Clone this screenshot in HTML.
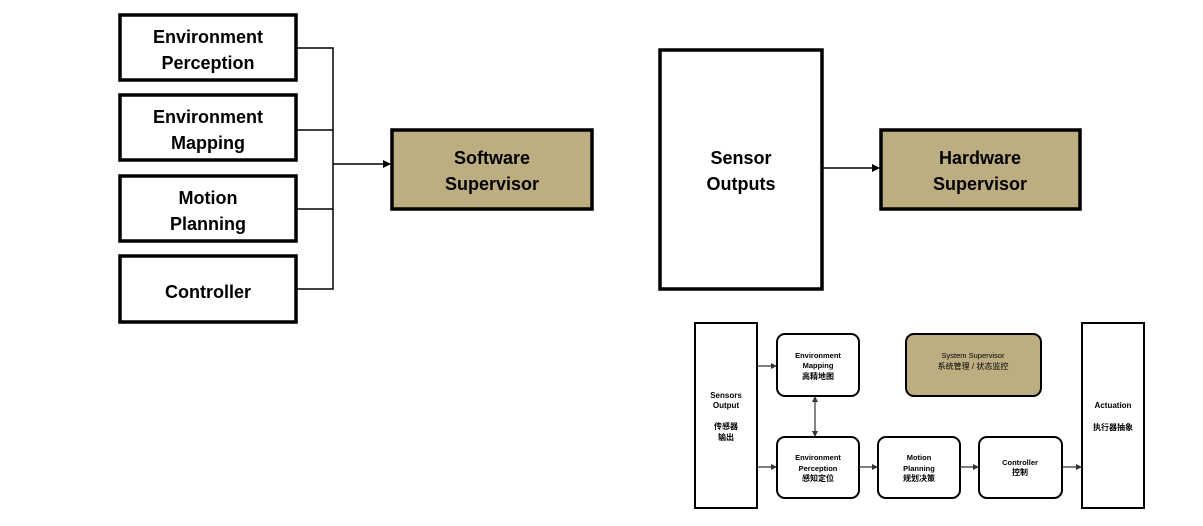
<!DOCTYPE html>
<html><head><meta charset="utf-8"><style>
body{margin:0;background:#fff;width:1203px;height:521px;overflow:hidden}
svg text{font-family:"Liberation Sans","Noto Sans CJK SC",sans-serif;text-anchor:middle}
</style></head><body>
<svg width="1203" height="521" viewBox="0 0 1203 521" xmlns="http://www.w3.org/2000/svg">
<defs><marker id="a" markerWidth="8" markerHeight="8" refX="7" refY="4" orient="auto" markerUnits="userSpaceOnUse"><path d="M0,0 L8,4 L0,8z" fill="#000"/></marker>
<marker id="s" markerWidth="6" markerHeight="6" refX="5" refY="3" orient="auto-start-reverse" markerUnits="userSpaceOnUse"><path d="M0,0 L6,3 L0,6z" fill="#333"/></marker></defs>
<g fill="#fff" stroke="#000" stroke-width="3.5">
<rect x="120" y="15" width="176" height="65"/>
<rect x="120" y="95" width="176" height="65"/>
<rect x="120" y="176" width="176" height="65"/>
<rect x="120" y="256" width="176" height="66"/>
<rect x="392" y="130" width="200" height="79" fill="#bcae80"/>
<rect x="660" y="50" width="162" height="239"/>
<rect x="881" y="130" width="199" height="79" fill="#bcae80"/>
</g>
<g stroke="#000" stroke-width="1.5" fill="none">
<path d="M296 48H333V289H296M296 130H333M296 209H333"/>
<path d="M333 164H390" marker-end="url(#a)"/>
<path d="M822 168H879" marker-end="url(#a)"/>
</g>
<g font-size="18" font-weight="bold" fill="#000">
<text x="208" y="43">Environment</text><text x="208" y="69">Perception</text>
<text x="208" y="123">Environment</text><text x="208" y="149">Mapping</text>
<text x="208" y="204">Motion</text><text x="208" y="230">Planning</text>
<text x="208" y="298">Controller</text>
<text x="492" y="164">Software</text><text x="492" y="190">Supervisor</text>
<text x="741" y="164">Sensor</text><text x="741" y="190">Outputs</text>
<text x="980" y="164">Hardware</text><text x="980" y="190">Supervisor</text>
</g>
<g stroke="#000" stroke-width="2" fill="#fff">
<rect x="695" y="323" width="62" height="185"/>
<rect x="1082" y="323" width="62" height="185"/>
<rect x="777" y="334" width="82" height="62" rx="8"/>
<rect x="906" y="334" width="135" height="62" rx="8" fill="#bcae80"/>
<rect x="777" y="437" width="82" height="61" rx="8"/>
<rect x="878" y="437" width="82" height="61" rx="8"/>
<rect x="979" y="437" width="83" height="61" rx="8"/>
</g>
<g stroke="#333" stroke-width="1.2" fill="none">
<path d="M757 366H776" marker-end="url(#s)"/>
<path d="M757 467H776" marker-end="url(#s)"/>
<path d="M859 467H877" marker-end="url(#s)"/>
<path d="M960 467H978" marker-end="url(#s)"/>
<path d="M1062 467H1081" marker-end="url(#s)"/>
<path d="M815 397V436" marker-start="url(#s)" marker-end="url(#s)"/>
</g>
<g font-size="8" font-weight="bold" fill="#000">
<text x="726" y="398">Sensors</text><text x="726" y="408">Output</text>
<text x="726" y="429">传感器</text><text x="726" y="440">输出</text>
<text x="1113" y="408">Actuation</text><text x="1113" y="430">执行器抽象</text>
<text x="818" y="358" font-size="7.5">Environment</text><text x="818" y="368" font-size="7.5">Mapping</text><text x="818" y="379">高精地图</text>
<text x="818" y="460" font-size="7.5">Environment</text><text x="818" y="471" font-size="7.5">Perception</text><text x="818" y="481">感知定位</text>
<text x="919" y="460" font-size="7.5">Motion</text><text x="919" y="471" font-size="7.5">Planning</text><text x="919" y="481">规划决策</text>
<text x="1020" y="465" font-size="7.5">Controller</text><text x="1020" y="475">控制</text>
<text x="973" y="358" font-size="7.5" font-weight="normal">System Supervisor</text><text x="973" y="369" font-weight="normal">系统管理 / 状态监控</text>
</g>
</svg>
</body></html>
